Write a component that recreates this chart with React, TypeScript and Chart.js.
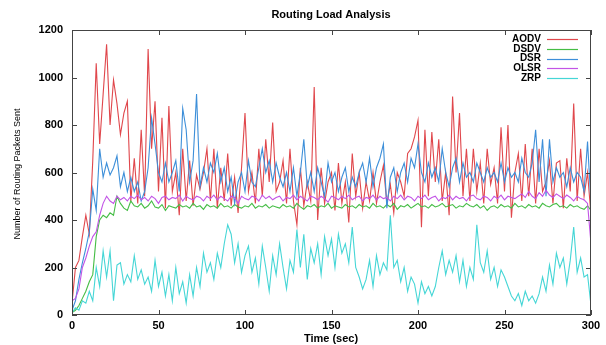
import React, { useEffect, useRef } from "react";
import { Chart, registerables } from "chart.js";

Chart.register(...registerables);

const TITLE = "Routing Load Analysis";
const X_TITLE = "Time (sec)";
const Y_TITLE = "Number of Routing Packets Sent";
const STEP_SEC = 2;
const SERIES_NAMES = ["AODV", "DSDV", "DSR", "OLSR", "ZRP"];
const SERIES_COLORS = ["#e0474c", "#45bd45", "#3d8fd9", "#c254e6", "#45d6d6"];

const aodv = [
  50, 200, 230, 330, 420, 340, 650, 1060, 720, 930,
  1140, 800, 990, 890, 760, 850, 900, 480, 660, 470,
  780, 500, 1120, 700, 900, 520, 830, 450, 880, 520,
  600, 420, 700, 480, 650, 460, 590, 530, 600, 700,
  480, 700, 450, 620, 480, 680, 460, 580, 430, 620,
  850, 520, 600, 470, 700, 500, 740, 560, 810, 520,
  560, 650, 470, 700, 480, 380, 620, 460, 560, 480,
  960, 400, 620, 470, 560, 600, 440, 640, 470, 560,
  390, 680, 500, 600, 450, 560, 480, 600, 470, 560,
  630, 470, 550, 430, 600, 560, 500, 680, 700, 750,
  820, 370, 780, 500, 770, 560, 740, 480, 600, 420,
  920, 600, 850, 500, 700, 480, 700, 520, 640, 470,
  700, 550, 620, 470, 790, 520, 800, 410, 600, 680,
  480, 720, 500, 700, 470, 700, 520, 560, 650, 470,
  640, 650, 450, 660, 520, 890, 480, 700, 500, 600,
  420,
];

const dsdv = [
  10, 20, 40, 70, 100, 140, 170, 330, 400, 420,
  410, 430, 420, 500, 470, 450, 440, 480, 460, 455,
  470, 450, 460, 480, 455, 450, 465, 440, 460, 455,
  450, 465, 455, 460, 450, 470, 455, 460, 445, 465,
  455, 460, 450, 470, 455, 460, 450, 465, 455, 450,
  460, 455, 470, 450, 460, 455, 465, 450, 460, 455,
  450, 465, 455, 460, 450, 470, 455, 445, 460, 455,
  465, 450, 460, 455, 470, 450, 460, 455, 450, 465,
  455, 460, 450, 465, 455, 460, 450, 470, 455, 460,
  450, 465, 455, 470, 445, 460, 455, 465, 450, 460,
  470, 455, 460, 450, 465, 455, 460, 470, 455, 460,
  465, 450, 460, 455, 470, 460, 455, 465, 450, 460,
  440, 455, 460, 450, 465, 455, 460, 450, 470, 455,
  460, 450, 465, 455, 460, 450, 470, 460, 455, 465,
  470, 455, 460, 450, 465, 455, 460, 450, 445, 460,
  440,
];

const dsr = [
  20, 60, 150, 220, 280, 350, 530, 440, 700, 580,
  640, 590, 620, 670, 540, 600, 520, 580, 520, 560,
  480, 520, 620, 830, 720, 600, 560, 640, 560, 600,
  650, 520, 870, 780, 560, 650, 930, 540, 620, 560,
  640, 600, 680, 560, 620, 520, 580, 470, 560, 600,
  520, 650, 560, 540, 620, 700, 600, 650, 560, 640,
  580, 540, 600, 520, 620, 500, 600, 740, 540, 600,
  520, 620, 560, 500, 640, 560, 600, 520, 580, 620,
  520, 580, 540, 600, 640, 560, 660, 540, 620, 660,
  720, 450, 580, 620, 520, 600, 640, 560, 660, 620,
  720, 600, 560, 640, 580, 620, 560, 700, 600, 540,
  620, 660, 560, 640, 580, 600, 560, 640, 600, 560,
  620, 580, 600, 560, 640, 560, 620, 580, 600, 560,
  660, 600, 580, 640, 780, 560, 740, 500, 740, 560,
  620, 580, 600, 540, 620, 560, 600, 580, 520, 730,
  470,
];

const olsr = [
  60, 70, 110, 200, 240, 290, 330, 350, 420, 470,
  500, 480, 470, 500, 485, 495, 480, 500, 490, 505,
  485, 495, 480, 500, 490, 470, 495, 500, 485, 495,
  490, 505, 480, 500, 490, 485, 500, 495, 480, 500,
  490, 505, 485, 500, 490, 480, 500, 495, 470, 500,
  490, 485, 500, 495, 480, 505, 490, 500, 485, 495,
  500, 480, 495, 490, 505, 485, 500, 490, 480, 500,
  495, 485, 500, 490, 475, 500, 495, 485, 500, 490,
  505, 485, 495, 500, 480, 495, 490, 505, 485, 500,
  490, 495, 480, 500, 490, 505, 485, 500, 495, 480,
  500, 490, 505, 485, 495, 500, 480, 495, 490, 505,
  485, 500, 490, 495, 480, 500, 505, 490, 485, 500,
  495, 480, 500, 490, 505, 485, 500, 495, 490, 500,
  510, 495, 520, 500, 490, 515, 500, 525, 505, 495,
  510, 500, 490, 505, 495, 480, 500, 490, 485, 470,
  300,
];

const zrp = [
  10, 30, 20, 60, 50, 100, 60, 200, 120, 270,
  160, 270, 60, 210, 220, 130, 170, 140, 250, 150,
  190, 130, 160, 100, 230, 120, 180, 80, 170, 60,
  200, 90, 140, 50, 170, 80, 200, 120, 260, 180,
  220, 150, 260, 200, 300, 380, 340, 220, 300, 180,
  250, 290, 180, 240, 130, 290, 200, 100, 250, 170,
  300, 200, 110, 230, 180, 360, 200, 340, 150, 280,
  220, 300, 170, 330, 250, 320, 200, 340, 260, 300,
  220, 370, 200, 160, 110, 150, 230, 120, 250, 170,
  220, 190, 420, 200, 230, 140, 200, 100, 160, 130,
  50, 140, 90, 120, 80, 120, 200, 270, 170, 230,
  180, 250, 140, 230, 120, 200, 150, 380, 220, 180,
  270, 150, 200, 120, 190, 160, 120, 80, 60, 90,
  40, 100, 60, 80, 50, 90, 160, 100, 210, 130,
  260, 200, 240, 130, 230, 370, 180, 240, 160, 170,
  40,
];

const SERIES = [aodv, dsdv, dsr, olsr, zrp];

const overlayPlugin = {
  id: "gnuplotOverlay",
  afterDraw(chart: any) {
    const { ctx, chartArea, scales } = chart;
    const { left, right, top, bottom } = chartArea;
    const xs = scales.x;
    const ys = scales.y;
    ctx.save();
    ctx.strokeStyle = "#444";
    ctx.lineWidth = 1;
    ctx.strokeRect(left + 0.5, top + 0.5, right - left - 1, bottom - top - 1);
    const tl = 5;
    ctx.beginPath();
    xs.ticks.forEach((t: any) => {
      const px = Math.round(xs.getPixelForValue(t.value)) + 0.5;
      ctx.moveTo(px, bottom);
      ctx.lineTo(px, bottom - tl);
      ctx.moveTo(px, top);
      ctx.lineTo(px, top + tl);
    });
    ys.ticks.forEach((t: any) => {
      const py = Math.round(ys.getPixelForValue(t.value)) + 0.5;
      ctx.moveTo(left, py);
      ctx.lineTo(left + tl, py);
      ctx.moveTo(right, py);
      ctx.lineTo(right - tl, py);
    });
    ctx.stroke();
    ctx.fillStyle = "#000";
    ctx.textAlign = "center";
    ctx.textBaseline = "middle";
    ctx.font = "bold 11px 'Liberation Sans', Arial, sans-serif";
    ctx.fillText(TITLE, 331, 15);
    ctx.fillText(X_TITLE, 331, 339);
    ctx.save();
    ctx.translate(18, 174);
    ctx.rotate(-Math.PI / 2);
    ctx.font = "9px 'Liberation Sans', Arial, sans-serif";
    ctx.fillText(Y_TITLE, 0, 0);
    ctx.restore();
    ctx.font = "bold 10px 'Liberation Sans', Arial, sans-serif";
    ctx.textAlign = "right";
    SERIES_NAMES.forEach((name, i) => {
      const yy = 39 + i * 9.8;
      ctx.fillStyle = "#000";
      ctx.fillText(name, 541, yy);
      ctx.strokeStyle = SERIES_COLORS[i];
      ctx.lineWidth = 1.2;
      ctx.beginPath();
      ctx.moveTo(547, Math.round(yy) + 0.5);
      ctx.lineTo(578, Math.round(yy) + 0.5);
      ctx.stroke();
    });
    ctx.restore();
  },
};

export default function App() {
  const ref = useRef<HTMLCanvasElement | null>(null);
  useEffect(() => {
    document.body.style.margin = "0";
    const canvas = ref.current;
    if (!canvas) return;
    const datasets = SERIES.map((vals, i) => ({
      label: SERIES_NAMES[i],
      data: vals.map((v, k) => ({ x: k * STEP_SEC, y: v })),
      borderColor: SERIES_COLORS[i],
      backgroundColor: SERIES_COLORS[i],
      borderWidth: 1.1,
      pointRadius: 0,
      tension: 0,
      fill: false,
      order: SERIES.length - i,
    }));
    const tickFont = { family: "'Liberation Sans', Arial, sans-serif", size: 11, weight: "bold" };
    const chart = new Chart(canvas, {
      type: "line",
      data: { datasets },
      options: {
        animation: false,
        responsive: false,
        maintainAspectRatio: false,
        layout: { padding: { left: 0, right: 15, top: 30, bottom: 0 } },
        plugins: {
          legend: { display: false },
          title: { display: false },
          tooltip: { enabled: false },
        },
        scales: {
          x: {
            type: "linear",
            min: 0,
            max: 300,
            ticks: {
              stepSize: 50,
              padding: 4,
              color: "#000",
              font: tickFont,
              maxRotation: 0,
              callback: (v: any) => String(v),
            },
            grid: { display: false, drawTicks: false },
            border: { display: false },
            afterFit(s: any) {
              s.height = 30;
            },
          },
          y: {
            min: 0,
            max: 1200,
            ticks: {
              stepSize: 200,
              padding: 9,
              color: "#000",
              font: tickFont,
              callback: (v: any) => String(v),
            },
            grid: { display: false, drawTicks: false },
            border: { display: false },
            afterFit(s: any) {
              s.width = 72;
            },
          },
        },
      },
      plugins: [overlayPlugin],
    } as any);
    return () => chart.destroy();
  }, []);
  return (
    <div style={{ width: 606, height: 345, background: "#fff" }}>
      <canvas ref={ref} width={606} height={345} style={{ display: "block" }} />
    </div>
  );
}
